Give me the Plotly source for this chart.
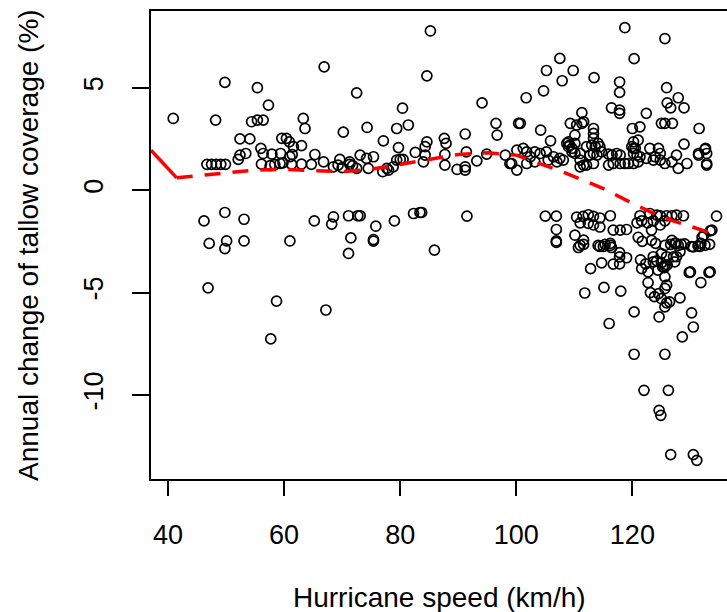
import plotly.graph_objects as go

# ---- data ----
speed = [
    40.9, 49.8, 48.2, 55.4, 57.3, 54.4, 55.4, 56.4, 52.4, 54.1,
    52.4, 53.4, 52.1, 46.7, 47.5, 48.3, 49.1, 49.9, 56.0, 56.4,
    57.9, 59.4, 56.1, 57.6, 58.4, 59.3, 59.8, 59.6, 60.4, 60.9,
    61.6, 63.0, 63.3, 63.6, 61.4, 61.0, 61.3, 63.0, 64.7, 65.3,
    66.8, 66.9, 68.5, 69.3, 69.6, 71.3, 71.3, 70.2, 72.5, 73.1,
    74.2, 75.4, 74.3, 72.5, 74.5, 77.1, 77.7, 78.8, 79.4, 80.0,
    80.5, 79.7, 79.4, 80.4, 81.4, 82.6, 84.3, 84.0, 84.6, 84.6,
    85.2, 78.0, 77.0, 84.3, 70.0, 71.8,
    # lower-left
    46.2, 49.8, 53.1, 47.1, 50.1, 49.8, 53.1, 61.0, 65.2, 68.5,
    68.2, 71.1, 72.7, 73.1, 71.5, 71.1, 75.4, 85.9, 75.8, 75.4,
    79.0, 82.3, 83.4, 46.9, 58.7, 57.7, 67.2, 83.7, 91.5,
    # upper right
    118.7, 125.6, 107.5, 120.3, 105.2, 109.8, 107.9, 113.4, 117.8, 117.8,
    104.7, 101.7, 125.9, 126.0, 127.9, 126.6, 128.9, 94.1, 116.4, 117.8,
    117.8, 122.4, 111.3, 96.5, 96.7, 100.4, 100.7, 109.3, 110.4, 111.3,
    111.6, 113.3, 113.3, 113.3, 104.2, 105.9, 110.1, 110.1, 109.0, 109.2,
    109.6, 120.0, 121.3, 120.2, 121.0, 120.2, 125.0, 125.6, 126.9, 131.5,
    128.9, 132.5, 91.2, 87.6, 87.9,
    # middle band
    87.7, 87.7, 89.8, 91.2, 91.2, 91.4, 93.2, 94.9, 98.1, 98.9,
    100.1, 101.2, 101.8, 102.4, 103.2, 104.1, 105.2, 101.8, 103.2, 105.5,
    106.4, 107.0, 107.5, 108.1, 99.2, 100.1,
    108.7, 109.0, 109.6, 110.1, 111.0, 111.0, 111.6, 111.0,
    112.1, 113.0, 113.6, 114.1, 114.4, 114.7,
    112.7, 113.3, 113.9, 113.3, 112.1,
    115.9, 116.5, 117.3, 117.9, 115.9, 116.7, 117.9, 118.7, 119.3, 120.2,
    121.0, 121.3, 119.9, 120.5, 120.2, 120.8,
    123.0, 124.5, 124.8, 124.8, 125.6, 126.8, 127.6, 127.9, 129.4, 131.4,
    132.6, 132.8, 122.4, 123.6, 123.9, 132.8, 131.4, 132.8,
    # lower right band
    105.0, 106.9, 106.9, 106.9, 110.4, 111.5, 112.4, 113.3, 114.4, 116.2,
    111.0, 112.4, 113.3, 114.4, 116.7, 117.9, 119.0,
    121.3, 123.0, 124.2, 124.8, 125.9, 126.8, 127.6, 128.8,
    120.8, 121.6, 122.6, 123.6, 124.8, 125.6,
    134.5, 123.3, 133.4, 110.1, 111.6, 111.0, 114.1, 115.0, 116.2,
    121.0, 123.3, 125.6, 126.8, 127.3, 127.9, 130.2, 131.8, 132.0, 131.6,
    133.7, 132.3, 130.5, 132.5,
    106.9, 110.7, 111.6, 114.4, 115.3, 116.4,
    117.8, 114.7, 116.7, 112.8, 111.8, 115.1, 118.0, 116.0, 120.3, 120.3,
    125.6, 122.0, 126.2, 124.6, 124.9, 126.6, 130.5, 131.1,
    121.7, 124.0, 126.6, 127.5, 128.4, 129.0, 131.3, 133.3,
    123.6, 125.0, 125.9, 127.1, 128.2,
    124.2, 125.0, 125.6, 127.6,
    121.6, 122.7, 125.5, 129.8, 133.2, 131.8,
    122.7, 125.6, 125.9, 125.6,
    123.1, 123.8, 124.5, 125.0, 125.9, 126.4, 125.6,
    128.2, 130.2, 130.5, 128.6, 124.6,
    130.0, 133.4, 116.2, 117.8, 119.0, 117.8,
    121.4, 122.3, 123.6, 124.4, 125.2, 126.0, 127.3,
]
change = [
    3.50, 5.26, 3.42, 5.00, 4.15, 3.34, 3.42, 3.42, 2.50, 2.50,
    1.71, 1.79, 1.50, 1.26, 1.26, 1.26, 1.26, 1.26, 2.04, 1.79,
    1.76, 1.79, 1.27, 1.20, 1.25, 1.30, 1.33, 2.53, 2.53, 2.36,
    2.12, 2.17, 3.50, 3.01, 1.74, 1.63, 1.26, 1.27, 1.26, 1.74,
    1.38, 6.02, 1.14, 1.22, 1.50, 1.38, 1.26, 2.83, 4.75, 1.71,
    1.55, 1.63, 3.06, 1.06, 1.06, 2.41, 1.06, 1.14, 1.47, 1.50,
    1.50, 2.08, 3.01, 4.00, 3.18, 1.84, 2.12, 1.38, 2.36, 5.58,
    7.77, 0.98, 0.90, 1.71, 1.10, 1.20,
    -1.50, -1.09, -1.42, -2.60, -2.48, -2.85, -2.48, -2.48, -1.50, -1.30,
    -1.66, -1.25, -1.25, -1.25, -2.33, -3.09, -2.49, -2.93, -1.76, -2.41,
    -1.50, -1.14, -1.09, -4.77, -5.42, -7.26, -5.85, -1.09, -1.27,
    7.93, 7.40, 6.43, 6.42, 5.84, 5.84, 5.34, 5.49, 5.28, 4.77,
    4.85, 4.51, 5.00, 4.26, 4.51, 4.02, 4.02, 4.26, 4.02, 3.91,
    3.75, 3.75, 3.78, 3.26, 2.69, 3.26, 3.26, 3.26, 3.18, 3.26,
    3.34, 3.01, 2.77, 2.53, 2.93, 2.41, 2.69, 2.28, 2.36, 2.20,
    2.04, 3.01, 3.09, 2.36, 2.44, 2.04, 3.26, 3.26, 3.26, 3.01,
    2.25, 1.99, 2.74, 2.53, 2.28,
    1.74, 1.22, 1.01, 1.14, 0.98, 1.87, 1.43, 1.76, 1.71, 1.30,
    0.98, 2.04, 1.87, 1.63, 1.87, 1.79, 1.87, 1.30, 1.38, 1.47,
    1.63, 1.38, 1.55, 1.47, 1.30, 1.95,
    2.28, 2.12, 1.87, 1.79, 1.79, 1.47, 1.22, 1.14,
    2.12, 2.20, 2.12, 2.28, 2.12, 1.87,
    1.71, 1.79, 1.71, 1.30, 1.22,
    1.76, 1.71, 1.79, 1.71, 1.22, 1.30, 1.30, 1.30, 1.30, 1.30,
    1.38, 1.63, 2.12, 2.04, 1.79, 1.71,
    2.04, 2.04, 1.79, 1.47, 1.30, 1.38, 1.71, 1.06, 1.30, 1.79,
    2.04, 1.30, 1.55, 1.47, 1.63, 1.22, 1.71, 1.79,
    -1.27, -1.27, -1.92, -2.48, -1.32, -1.28, -1.20, -1.28, -1.36, -1.25,
    -1.60, -1.62, -1.70, -1.80, -1.95, -1.95, -1.92,
    -1.25, -1.14, -1.22, -1.25, -1.25, -1.25, -1.22, -1.25,
    -1.60, -1.50, -1.60, -1.50, -1.70, -1.50,
    -1.27, -1.95, -1.99, -2.20, -2.44, -2.69, -2.70, -2.75, -2.70,
    -2.30, -2.45, -2.70, -2.45, -2.60, -2.70, -2.75, -2.60, -2.30, -2.75,
    -1.95, -2.20, -2.77, -2.69,
    -2.55, -2.80, -2.65, -2.75, -2.65, -2.80,
    -3.26, -3.55, -3.61, -3.83, -5.02, -4.75, -4.93, -6.51, -5.94, -8.01,
    -8.01, -9.77, -9.77, -10.75, -10.99, -12.91, -12.91, -13.19,
    -2.50, -2.60, -2.65, -2.60, -2.65, -2.62, -2.72, -2.65,
    -3.25, -3.10, -3.25, -3.25, -3.00,
    -3.45, -3.55, -3.70, -3.25,
    -3.83, -3.99, -3.78, -4.02, -4.02, -4.51,
    -4.51, -4.23, -4.64, -4.80,
    -5.00, -5.20, -5.05, -5.30, -5.50, -5.45, -5.70,
    -5.26, -5.99, -6.68, -7.16, -6.19,
    -3.99, -3.99, -2.60, -3.05, -3.30, -3.60,
    -3.40, -3.60, -3.50, -3.90, -3.75, -3.65, -3.50,
]

# fitted trend (red): first segment solid, rest dashed
trend_solid_x = [37.07, 41.5]
trend_solid_y = [1.95, 0.60]
trend_x = [41.5, 45, 50, 55, 60, 65, 70, 75, 80, 85, 90, 95, 100,
           103, 107, 111, 115, 119, 123, 127, 130, 133]
trend_y = [0.60, 0.70, 0.86, 0.98, 1.01, 0.97, 0.90, 1.02, 1.25, 1.52,
           1.74, 1.82, 1.71, 1.40, 1.00, 0.55, 0.08, -0.50, -1.05, -1.50,
           -1.75, -2.04]

x_ticks = [40, 60, 80, 100, 120]
y_ticks = [-10, -5, 0, 5]

FONT = "Liberation Sans, Arial, sans-serif"

fig = go.Figure()
fig.add_trace(go.Scatter(
    x=speed, y=change, mode="markers",
    marker=dict(symbol="circle-open", size=10, color="black",
                line=dict(width=1.7, color="black")),
    showlegend=False, hoverinfo="x+y"))
fig.add_trace(go.Scatter(
    x=trend_solid_x, y=trend_solid_y, mode="lines",
    line=dict(color="#ff0000", width=3.5), showlegend=False))
fig.add_trace(go.Scatter(
    x=trend_x, y=trend_y, mode="lines",
    line=dict(color="#ff0000", width=3.5, dash="16px,12px"), showlegend=False))

fig.update_layout(
    width=727, height=612,
    margin=dict(l=151, r=0, t=11, b=133),
    paper_bgcolor="white", plot_bgcolor="white",
    font=dict(family=FONT, size=27, color="black"),
    xaxis=dict(range=[37.07, 136.3], tickvals=x_ticks, ticktext=[str(v) for v in x_ticks],
               showgrid=False, zeroline=False, showline=True, linecolor="black",
               linewidth=1.5, mirror=True, ticks="outside", ticklen=15,
               tickwidth=1.5, tickcolor="black", ticklabelstandoff=16,
               tickfont=dict(size=27)),
    yaxis=dict(range=[-14.1, 8.745], tickvals=y_ticks, ticktext=[str(v) for v in y_ticks],
               showgrid=False, zeroline=False, showline=True, linecolor="black",
               linewidth=1.5, mirror=False, ticks="outside", ticklen=17,
               tickwidth=1.5, tickcolor="black", tickangle=-90,
               ticklabelstandoff=18, tickfont=dict(size=27)),
    annotations=[
        dict(text="Hurricane speed (km/h)", xref="paper", yref="paper",
             x=0.5, y=0, xanchor="center", yanchor="middle", yshift=-118,
             showarrow=False, font=dict(size=28)),
        dict(text="Annual change of tallow coverage (%)", xref="paper", yref="paper",
             x=0, y=0.5, xanchor="center", yanchor="middle", xshift=-123,
             textangle=-90, showarrow=False, font=dict(size=28)),
    ],
)

fig.write_html("out.html")
